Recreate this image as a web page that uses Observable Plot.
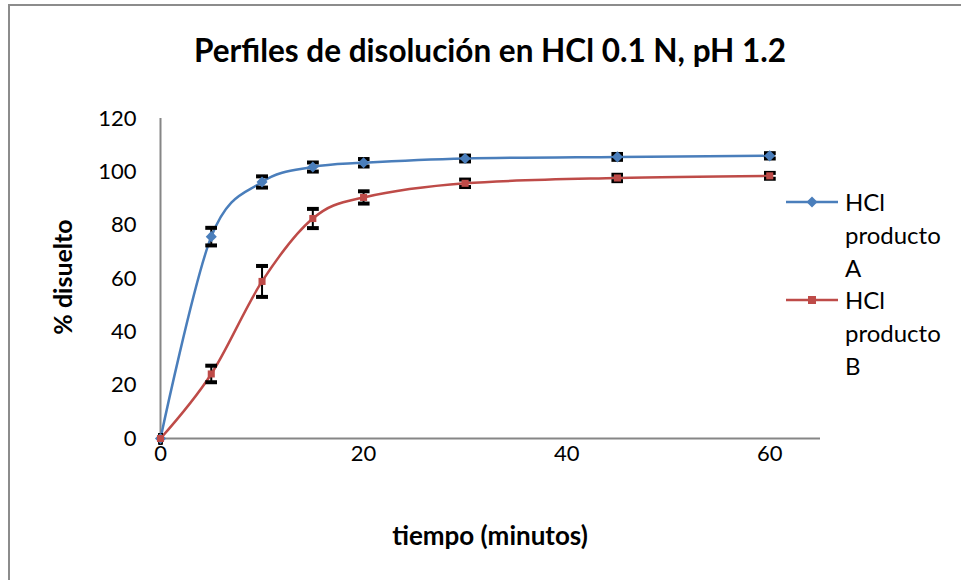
<!DOCTYPE html>
<html>
<head>
<meta charset="utf-8">
<script src="https://cdn.jsdelivr.net/npm/d3@7"></script>
<script src="https://cdn.jsdelivr.net/npm/@observablehq/plot@0.6"></script>
<style>
  body { margin: 0; background: #fff; }
  #wrap { position: relative; width: 961px; height: 580px; overflow: hidden; font-family: Lato, "Open Sans", sans-serif; color: #000; }
  #frame { position: absolute; left: 8px; top: 4px; width: 1000px; height: 700px; border-left: 2px solid #8c8c8c; border-top: 2px solid #8c8c8c; box-sizing: border-box; }
  #chart { position: absolute; left: 0; top: 0; }
  .title { position: absolute; left: 490px; top: 50px; transform: translate(-50%, -50%); font-weight: bold; font-size: 31.5px; white-space: nowrap; }
  .ylab { position: absolute; left: 62px; top: 277px; transform: translate(-50%, -50%) rotate(-90deg); font-weight: bold; font-size: 25px; white-space: nowrap; }
  .xlab { position: absolute; left: 490px; top: 535px; transform: translate(-50%, -50%); font-weight: bold; font-size: 26px; white-space: nowrap; }
  .leg { position: absolute; left: 786px; font-size: 24px; line-height: 33px; }
  .leg svg { position: absolute; left: 0; top: 11px; }
  .leg div { margin-left: 59px; }
</style>
</head>
<body>
<div id="wrap">
  <div id="frame"></div>
  <div id="chart"></div>
</div>
<script>
const time = [0, 5, 10, 15, 20, 30, 45, 60];
const productoA = [0, 75.7, 96.2, 101.8, 103.4, 105.0, 105.6, 106.0];
const errorA = [0, 3.3, 2.1, 1.7, 1.4, 1.1, 1.1, 1.0];
const productoB = [0, 24.2, 58.9, 82.5, 90.4, 95.7, 97.7, 98.5];
const errorB = [0, 3.1, 5.8, 3.6, 2.3, 1.4, 1.2, 1.1];
const seriesNames = ["HCl producto A", "HCl producto B"];
const seriesColors = ["#4A7EBB", "#BE4B48"];
const xTicks = [0, 20, 40, 60];
const yTicks = [0, 20, 40, 60, 80, 100, 120];
const titleText = "Perfiles de disolución en HCl 0.1 N, pH 1.2";
const xLabel = "tiempo (minutos)";
const yLabel = "% disuelto";

const rows = [];
time.forEach((t, i) => {
  rows.push({ t, v: productoA[i], e: errorA[i], s: seriesNames[0] });
  rows.push({ t, v: productoB[i], e: errorB[i], s: seriesNames[1] });
});
const rowsA = rows.filter(d => d.s === seriesNames[0]);
const rowsB = rows.filter(d => d.s === seriesNames[1]);

const plot = Plot.plot({
  width: 961,
  height: 580,
  marginLeft: 160,
  marginRight: 141,
  marginTop: 118,
  marginBottom: 142,
  style: { fontFamily: "Lato, 'Open Sans', sans-serif", fontSize: "22px", color: "#000", background: "transparent" },
  x: { domain: [0, 65], ticks: xTicks, tickSize: 0, tickPadding: 7, label: null },
  y: { domain: [0, 120], ticks: yTicks, tickSize: 0, tickPadding: 24, label: null },
  color: { domain: seriesNames, range: seriesColors },
  marks: [
    Plot.ruleX([0], { stroke: "#868686", strokeWidth: 2 }),
    Plot.ruleY([0], { stroke: "#868686", strokeWidth: 2 }),
    Plot.line(rows, { x: "t", y: "v", z: "s", stroke: "s", strokeWidth: 2.5, curve: "cardinal" }),
    Plot.link(rows, { x1: "t", x2: "t", y1: d => d.v - d.e, y2: d => d.v + d.e, stroke: "#000", strokeWidth: 2, markerStart: "tick", markerEnd: "tick" }),
    Plot.dot(rowsA, { x: "t", y: "v", symbol: "diamond2", r: 5, fill: seriesColors[0], stroke: null }),
    Plot.dot(rowsB, { x: "t", y: "v", symbol: "square2", r: 4.5, fill: seriesColors[1], stroke: null })
  ]
});
const chart = document.getElementById("chart");
chart.appendChild(plot);

const wrap = document.getElementById("wrap");
function addDiv(cls, text) {
  const d = document.createElement("div");
  d.className = cls;
  d.textContent = text;
  wrap.appendChild(d);
  return d;
}
addDiv("title", titleText);
addDiv("ylab", yLabel);
addDiv("xlab", xLabel);

const legTops = [185, 283];
seriesNames.forEach((name, i) => {
  const g = document.createElement("div");
  g.className = "leg";
  g.style.top = legTops[i] + "px";
  const sym = i === 0
    ? `<path d="M26,-5.5L31.5,0L26,5.5L20.5,0Z" fill="${seriesColors[i]}"/>`
    : `<rect x="22" y="-4" width="8" height="8" fill="${seriesColors[i]}"/>`;
  g.innerHTML = `<svg width="54" height="12" viewBox="0 -6 54 12"><line x1="0" x2="52" y1="0" y2="0" stroke="${seriesColors[i]}" stroke-width="2.5"/>${sym}</svg>` +
    name.split(" ").map(w => `<div>${w}</div>`).join("");
  wrap.appendChild(g);
});
</script>
</body>
</html>
